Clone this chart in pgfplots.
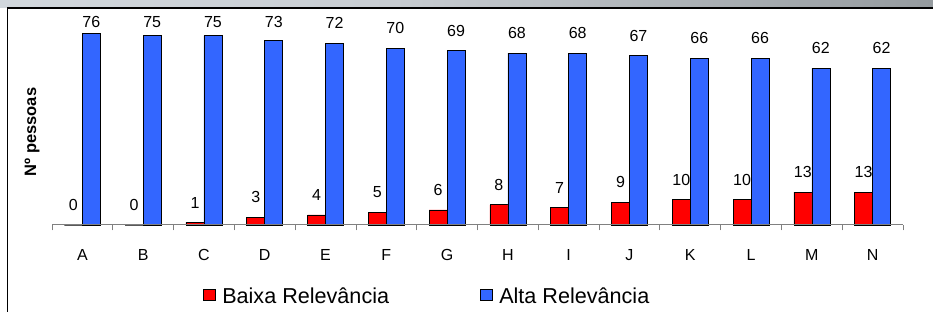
\documentclass[border=0pt]{standalone}
\usepackage{pgfplots}
\pgfplotsset{compat=1.18}
\usepackage{pgfplotstable}
\usepackage{fontspec}
\setmainfont{Liberation Sans}
\definecolor{barred}{HTML}{FF0000}
\definecolor{barblue}{HTML}{3366FF}
\definecolor{axgray}{HTML}{808080}
\definecolor{sA}{HTML}{DCE3E9}
\definecolor{sB}{HTML}{C9CED3}
\definecolor{sC}{HTML}{959B9F}
\definecolor{sD}{HTML}{B5B9BC}
\pgfdeclarehorizontalshading{topstrip}{100bp}{color(0bp)=(sA); color(45bp)=(sB); color(75bp)=(sC); color(90bp)=(sD); color(100bp)=(white)}
\pgfplotstableread{
x cat low lowoff high highoff
0 A 0 14 76 5
1 B 0 14 75 7.5
2 C 1 14 75 7.5
3 D 3 14 73 12.6
4 E 4 14 72 14
5 F 5 14 70 14
6 G 6 14 69 14
7 H 8 14 68 14
8 I 7 14 68 14
9 J 9 14 67 14
10 K 10 14 66 14
11 L 10 14 66 14
12 M 13 14 62 14
13 N 13 14 62 14
}\datatable
\begin{document}
\begin{tikzpicture}[x=1pt,y=1pt]
\useasboundingbox (0,0) rectangle (933,312);
\fill[white] (0,0) rectangle (933,312);
\fill[shading=topstrip] (0,304) rectangle (933,312);
\begin{axis}[
  at={(52pt,87pt)}, anchor=south west,
  scale only axis, width=851pt, height=208pt,
  xmin=-0.5, xmax=13.5, ymin=0, ymax=82.35,
  ybar=0pt, bar width=18pt,
  axis on top,
  axis x line*=bottom, axis y line=none,
  axis line style={draw=axgray, line width=1pt},
  xtick={0,...,13},
  xticklabels={A,B,C,D,E,F,G,H,I,J,K,L,M,N},
  major x tick style={draw=none},
  minor xtick={-0.5,0.5,...,13.5},
  minor tick length=5.3pt,
  tick align=outside,
  minor x tick style={draw=axgray, line width=0.8pt},
  xticklabel style={font=\fontsize{16}{19}\selectfont, anchor=base, inner sep=0pt, yshift=-31pt},
  ytick=\empty,
  clip=false,
  /pgf/number format/assume math mode=true,
  nodes near coords,
  every node near coord/.append style={font=\fontsize{16}{19}\selectfont, anchor=south, inner sep=0pt, yshift=\labeloff pt, black},
  legend columns=2,
  legend style={at={(axis description cs:0.1774,-0.341)}, anchor=west, draw=none, fill=none, inner sep=0pt,
    font=\fontsize{21.6}{25}\selectfont, nodes={inner sep=0pt},
    /tikz/every odd column/.append style={column sep=7pt},
    /tikz/every even column/.append style={column sep=91pt}},
  legend image code/.code={\draw[#1,draw=black,line width=0.6pt] (0pt,-4.5pt) rectangle (11.5pt,7pt);},
]
\addplot[fill=barred, draw=black, line width=0.6pt,
  visualization depends on={\thisrow{lowoff} \as \labeloff}]
  table[x=x, y=low] {\datatable};
\addlegendentry{Baixa Relevância}
\addplot[fill=barblue, draw=black, line width=0.6pt,
  visualization depends on={\thisrow{highoff} \as \labeloff}]
  table[x=x, y=high] {\datatable};
\addlegendentry{Alta Relevância}
\node[rotate=90, anchor=base, font=\fontsize{16.5}{19}\selectfont\bfseries]
  at (axis description cs:-0.0188,0.447) {Nº pessoas};
\end{axis}
\draw[line width=1.5pt] (7.3,0) -- (7.3,304) -- (934,304);
\end{tikzpicture}
\end{document}
